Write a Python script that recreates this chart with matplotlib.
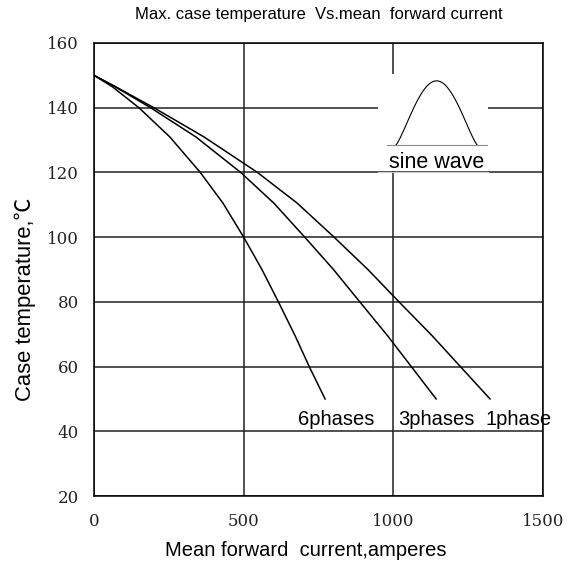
import numpy as np
import matplotlib
matplotlib.use('Agg')
import matplotlib.pyplot as plt
from matplotlib.patches import Rectangle

# curves (current in A, case temperature in degC)
temp = [150, 146.5, 140, 131, 120, 110.5, 100, 90, 80, 69.5, 60, 50]
cur_6ph = [0, 61, 150, 253, 355, 431, 500, 561, 616, 672, 719, 772]
cur_3ph = [0, 70, 189, 340, 490, 601, 704, 800, 888, 981, 1060, 1143]
cur_1ph = [0, 72, 200, 367, 546, 679, 802, 915, 1019, 1130, 1224, 1323]

curve_labels = ['6phases', '3phases', '1phase']
label_x = [681, 1016, 1309]
label_y = 43.5

xticks = [0, 500, 1000, 1500]
yticks = [20, 40, 60, 80, 100, 120, 140, 160]

sans = ['Liberation Sans', 'Noto Sans CJK JP', 'DejaVu Sans']
serif = ['DejaVu Serif']

fig = plt.figure(figsize=(5.76, 5.62), dpi=100)
ax = fig.add_axes([0.1632, 0.1174, 0.7795, 0.8061])

for c in [cur_6ph, cur_3ph, cur_1ph]:
	ax.plot(c, temp, color='black', lw=1.1, zorder=3, solid_joinstyle='round')

ax.set_xlim(0, 1500)
ax.set_ylim(20, 160)
ax.set_xticks(xticks)
ax.set_yticks(yticks)
ax.tick_params(length=0, pad=11, labelsize=12)
for t in ax.get_xticklabels() + ax.get_yticklabels():
	t.set_family(serif)
	t.set_color('#222222')
ax.tick_params(axis='x', pad=12)
ax.grid(True, color='#222222', lw=1.1)
ax.set_axisbelow(True)
for s in ax.spines.values():
	s.set_linewidth(1.1)

# white box behind the sine wave sketch
ax.add_patch(Rectangle((949, 120.3), 367, 30.2, facecolor='white',
	edgecolor='none', zorder=2))
ax.plot([949, 1316], [120.1, 120.1], color='#cccccc', lw=0.8, zorder=2)
# sine wave sketch
xs = np.linspace(0, np.pi, 80)
sx = 1009 + (xs / np.pi) * 271
sy = 128.5 + 19.8 * np.sin(xs) ** 1.2
ax.plot(sx, sy, color='black', lw=0.8, zorder=3)
ax.plot([979, 1313], [128.5, 128.5], color='#888888', lw=0.8, zorder=3)
ax.text(1146, 123, 'sine wave', ha='center', va='center', fontsize=15.5,
	family=sans, zorder=4)

for lab, lx in zip(curve_labels, label_x):
	ax.text(lx, label_y, lab, ha='left', va='center', fontsize=14.5,
		family=sans, clip_on=False, zorder=4)

ax.set_xlabel('Mean forward  current,amperes', family=sans, fontsize=14.5)
ax.xaxis.set_label_coords(0.472, -0.099)
ax.set_ylabel('Case temperature,\u2103', family=sans, fontsize=15.8)
ax.yaxis.set_label_coords(-0.130, 0.435)
ax.set_title('Max. case temperature  Vs.mean  forward current',
	family=['Liberation Sans Narrow', 'Liberation Sans'], fontsize=12,
	pad=17)

fig.savefig('out.png', dpi=100)
